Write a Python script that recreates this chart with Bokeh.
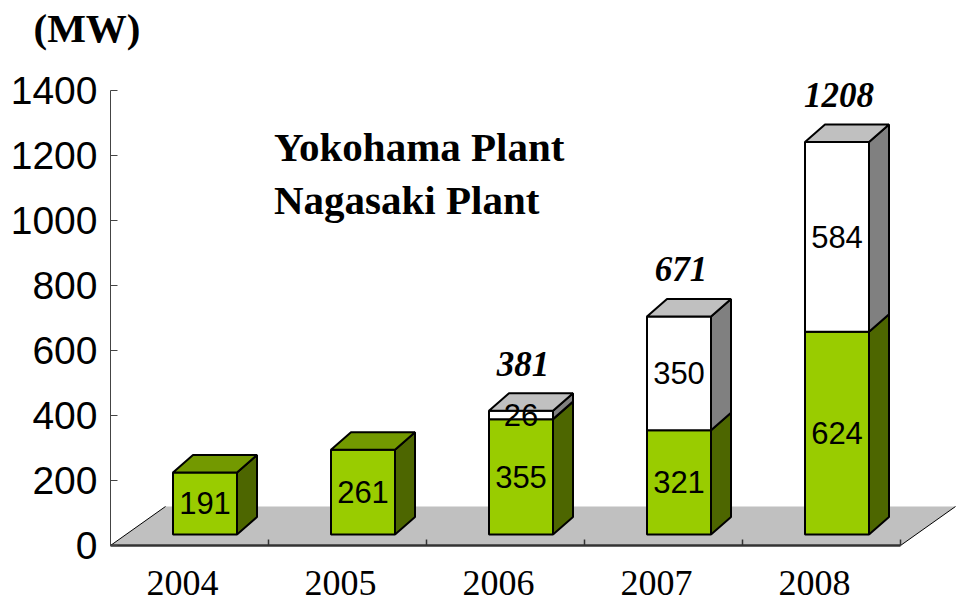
from bokeh.plotting import figure
from bokeh.models import (Range1d, FixedTicker, Label, Legend, LegendItem,
                          ColumnDataSource)
from bokeh.core.properties import value
from bokeh.embed import file_html
from bokeh.resources import INLINE

# ---------------- data ----------------
years = ["2004", "2005", "2006", "2007", "2008"]
nagasaki = [191, 261, 355, 321, 624]      # green (bottom) series
yokohama = [0, 0, 26, 350, 584]           # white (top) series
y_ticks = [0, 200, 400, 600, 800, 1000, 1200, 1400]
series_names = ["Yokohama Plant", "Nagasaki Plant"]

# ---------------- layout / style ----------------
W, H = 958, 601
ORIGIN_X = 110             # px of x = 0 (value axis)
ZERO_Y = 545               # px of value 0
PX_PER_X = 158.0           # px per category
PX_PER_Y = 0.325           # px per MW


def px_x(v):
    return v / PX_PER_X


def px_y(v):
    return v / PX_PER_Y


FLOOR_DX, FLOOR_DY = px_x(55), px_y(39)
BAR_W = px_x(64)
FRONT_DX, FRONT_DY = px_x(15.5), px_y(11)
DEPTH_DX, DEPTH_DY = px_x(20), px_y(17.5)
LABEL_SHIFT = px_x(-7)     # projected category label position

GREEN = ("#99CC00", "#4D6600", "#739900")   # front, side, top
WHITE = ("#FFFFFF", "#808080", "#C0C0C0")

n = len(years)

p = figure(width=W, height=H, output_backend="svg", toolbar_location=None,
           x_range=Range1d(-ORIGIN_X / PX_PER_X, (W - ORIGIN_X) / PX_PER_X),
           y_range=Range1d(-(H - ZERO_Y) / PX_PER_Y, ZERO_Y / PX_PER_Y),
           min_border_left=0, min_border_right=0, min_border_top=0,
           min_border_bottom=0)
p.outline_line_color = None
p.xgrid.visible = False
p.ygrid.visible = False
p.background_fill_color = "white"
p.border_fill_color = "white"

# ---------------- floor ----------------
p.patch(x=[0, n, n + FLOOR_DX, FLOOR_DX], y=[0, 0, FLOOR_DY, FLOOR_DY],
        fill_color="#C0C0C0", line_color=None)
p.segment(x0=[0, n], y0=[0, 0], x1=[FLOOR_DX, n + FLOOR_DX],
          y1=[FLOOR_DY, FLOOR_DY], line_color="black", line_width=1)

# ---------------- bars ----------------
fx, fy, fc = [], [], []
sx, sy, sc = [], [], []
tx, ty, tc = [], [], []
lab_x, lab_y, lab_t = [], [], []
tot_x, tot_y, tot_t = [], [], []

for i in range(n):
    cx = i + 0.5 + FRONT_DX
    x0, x1 = cx - BAR_W / 2, cx + BAR_W / 2
    bottom = FRONT_DY
    top_col = None
    for val, cols in ((nagasaki[i], GREEN), (yokohama[i], WHITE)):
        if val <= 0:
            continue
        top = bottom + val
        fx.append([x0, x1, x1, x0]); fy.append([bottom, bottom, top, top]); fc.append(cols[0])
        sx.append([x1, x1 + DEPTH_DX, x1 + DEPTH_DX, x1])
        sy.append([bottom, bottom + DEPTH_DY, top + DEPTH_DY, top]); sc.append(cols[1])
        lab_x.append(cx); lab_y.append((bottom + top) / 2); lab_t.append(str(val))
        top_col = cols[2]
        bottom = top
    tx.append([x0, x1, x1 + DEPTH_DX, x0 + DEPTH_DX])
    ty.append([bottom, bottom, bottom + DEPTH_DY, bottom + DEPTH_DY]); tc.append(top_col)
    if yokohama[i] > 0:
        tot_x.append(cx); tot_y.append(bottom); tot_t.append(str(nagasaki[i] + yokohama[i]))

p.patches(xs="xs", ys="ys", fill_color="c", line_color="black", line_width=2,
          source=ColumnDataSource(dict(xs=fx, ys=fy, c=fc)))
p.patches(xs="xs", ys="ys", fill_color="c", line_color="black", line_width=2,
          source=ColumnDataSource(dict(xs=sx, ys=sy, c=sc)))
p.patches(xs="xs", ys="ys", fill_color="c", line_color="black", line_width=2,
          source=ColumnDataSource(dict(xs=tx, ys=ty, c=tc)))

p.text(x="x", y="y", text="t", source=ColumnDataSource(dict(x=lab_x, y=lab_y, t=lab_t)),
       text_font=value("Liberation Sans"), text_font_size="31px",
       text_align="center", text_baseline="middle", text_color="black")
p.text(x="x", y="y", text="t", source=ColumnDataSource(dict(x=tot_x, y=tot_y, t=tot_t)),
       text_font=value("Liberation Serif"), text_font_size="35px",
       text_font_style="bold italic", text_align="center", text_baseline="middle",
       text_color="black", x_offset=2, y_offset=-47)

# ---------------- axes ----------------
yax = p.yaxis[0]
yax.fixed_location = 0
yax.ticker = FixedTicker(ticks=y_ticks)
yax.bounds = (0, y_ticks[-1])
yax.major_tick_in = 7
yax.major_tick_out = 0
yax.minor_tick_line_color = None
yax.axis_line_color = "#444444"
yax.major_tick_line_color = "#444444"
yax.major_label_text_font = "Liberation Sans"
yax.major_label_text_font_size = "39px"
yax.major_label_text_color = "black"
yax.major_label_standoff = 13

xax = p.xaxis[0]
xax.fixed_location = 0
centers = [i + 0.5 + LABEL_SHIFT for i in range(n)]
xax.ticker = FixedTicker(ticks=centers, minor_ticks=[i for i in range(1, n + 1)])
xax.major_label_overrides = {c: y for c, y in zip(centers, years)}
xax.bounds = (0, n)
xax.axis_line_color = "#333333"
xax.axis_line_width = 2.5
xax.major_tick_line_color = None
xax.major_tick_in = 0
xax.major_tick_out = 0
xax.minor_tick_in = 6
xax.minor_tick_out = 0
xax.minor_tick_line_color = "#333333"
xax.minor_tick_line_width = 1.5
xax.major_label_text_font = "Liberation Serif"
xax.major_label_text_font_size = "36px"
xax.major_label_text_color = "black"
xax.major_label_standoff = 25

# ---------------- unit label ----------------
p.add_layout(Label(x=33, y=574, x_units="screen", y_units="screen", text="(MW)",
                   text_font="Liberation Serif", text_font_style="bold",
                   text_color="black", text_font_size="41px",
                   text_baseline="middle", text_align="left"))

# ---------------- legend (text only) ----------------
r_yoko = p.scatter(x=[], y=[], fill_alpha=0, line_alpha=0)
r_naga = p.scatter(x=[], y=[], fill_alpha=0, line_alpha=0)
legend = Legend(items=[LegendItem(label=value(series_names[0]), renderers=[r_yoko]),
                       LegendItem(label=value(series_names[1]), renderers=[r_naga])],
                location=(274, 377), glyph_width=0, glyph_height=46, label_height=46,
                label_standoff=0, spacing=5, padding=0, margin=0,
                border_line_color=None, background_fill_alpha=0,
                label_text_font="Liberation Serif", label_text_font_size="41px",
                label_text_font_style="bold", label_text_color="black")
p.add_layout(legend)

open("out.html", "w").write(file_html(p, INLINE))
